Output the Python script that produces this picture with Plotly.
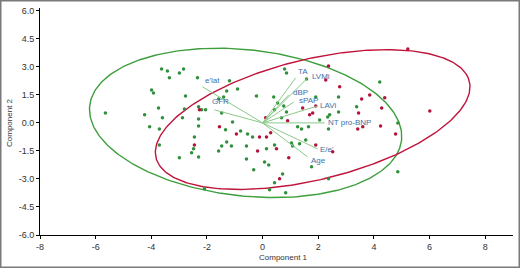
import numpy as np
import plotly.graph_objects as go

# ---- data ----
green_x = [-5.65, -4.24, -4.06, -3.99, -3.92, -3.74, -3.71, -3.71, -3.63, -3.60, -3.42, -3.35, -2.99, -2.84,
           -2.77, -2.88, -2.81, -2.99, -2.55, -2.48, -2.45, -2.34, -2.30, -2.19, -2.05, -2.30, -2.30, -2.30,
           -2.09, -1.58, -1.40, -1.29, -1.19, -0.90, -1.47, -1.58, -1.47, -1.29, -1.12, -1.33, -1.08, -0.79,
           -0.54, -0.58, -0.58, -0.36, -0.32, -0.22, 0.07, 0.22, 0.14, 0.43, 0.25, 0.43, 0.72, 0.83, 0.79,
           0.86, 0.40, 0.54, 0.76, 0.43, 0.86, 1.04, 1.08, 1.33, 1.55, 1.26, 1.40, 1.65, 1.58, 1.91, 2.05,
           2.34, 2.41, 2.37, 2.73, 2.73, 3.38, 4.21, 4.86, 1.76, 2.37, 4.86, 0.68]
green_y = [0.53, 0.43, -0.21, 1.76, 1.60, 0.80, -0.32, -1.18, 2.89, 0.27, 2.78, 2.41, 2.67, 2.89,
           1.44, 0.27, 0.75, -1.87, -1.60, -1.39, -0.75, 2.41, 0.86, 0.70, 0.70, 0.21, -0.16, -1.82,
           -3.53, 1.28, 1.39, 1.71, 2.25, 1.82, 0.53, -1.50, -1.23, -1.02, -1.23, -0.37, 0.05, -0.43,
           -0.59, -1.23, -1.93, -0.75, -2.51, 1.44, -2.09, -2.25, -1.39, -1.18, -3.58, -3.21, -2.73, -3.74, 2.89,
           2.67, 1.39, 1.07, 0.91, 0.70, 0.59, -1.07, -1.23, -1.12, -0.91, -0.21, -0.32, -0.21, 2.35, 1.39, 0.16,
           0.32, 0.43, -0.32, 1.39, 0.59, 0.86, 2.19, 0.00, -2.35, -2.99, -2.62, 0.27]

red_x = [-2.45, -2.27, -1.55, -0.94, -0.18, -0.11, 0.14, 0.29, 0.11, 0.50, 0.94, 0.61, 0.90, 1.44, 1.69,
         1.80, 1.91, 2.27, 2.37, 2.77, 1.91, 2.52, 3.45, 3.42, 3.60, 4.24, 4.78, 3.56, 3.85, 4.39, 4.28,
         5.22, 6.01]
red_y = [-1.18, 0.70, -0.21, -0.59, -1.50, -0.75, -0.75, -0.53, 0.27, -1.39, -1.87, -2.99, 0.11, 0.80, 0.43,
         0.53, 0.91, 2.30, 3.05, 1.93, -1.18, -1.55, 0.53, -0.32, -0.21, -0.16, -0.59, 1.28, 1.50, 1.34, 0.80,
         3.96, 0.64]

loading_names = ["e'lat", "GFR", "TA", "LVMi", "dBP", "sPAP", "LAVi", "NT pro-BNP", "E/e'", "Age"]
loading_x = [-2.16, -1.73, 1.19, 1.62, 0.94, 1.12, 1.98, 2.23, 1.98, 1.62]
loading_y = [1.93, 0.70, 2.41, 2.41, 1.50, 1.12, 0.91, 0.00, -1.39, -1.82]

# confidence ellipses: centre x, centre y, semi-major, semi-minor, angle (deg)
green_ellipse = [-0.61, 0.0, 5.70, 3.87, -13.8]
red_ellipse = [1.80, 0.18, 6.03, 3.10, 23.9]

x_ticks = [-8, -6, -4, -2, 0, 2, 4, 6, 8]
y_ticks = [-6.0, -4.5, -3.0, -1.5, 0.0, 1.5, 3.0, 4.5, 6.0]

GREEN = "#2f8f3a"
RED = "#b3123a"
ELL_GREEN = "#3c9e3c"
ELL_RED = "#c0143c"
LOAD_LINE = "#8ac98a"
LABEL = "#4470a6"
FONT = "Liberation Sans, Arial, sans-serif"


def ellipse(params, n=300):
    cx, cy, a, b, ang = params
    t = np.linspace(0, 2 * np.pi, n)
    th = np.deg2rad(ang)
    xs = cx + a * np.cos(t) * np.cos(th) - b * np.sin(t) * np.sin(th)
    ys = cy + a * np.cos(t) * np.sin(th) + b * np.sin(t) * np.cos(th)
    return xs, ys


fig = go.Figure()

for params, col in [(green_ellipse, ELL_GREEN), (red_ellipse, ELL_RED)]:
    ex, ey = ellipse(params)
    fig.add_trace(go.Scatter(x=ex, y=ey, mode="lines", line=dict(color=col, width=1.4),
                             hoverinfo="skip", showlegend=False))

fig.add_trace(go.Scatter(x=green_x, y=green_y, mode="markers",
                         marker=dict(color=GREEN, size=3.5), showlegend=False))
fig.add_trace(go.Scatter(x=red_x, y=red_y, mode="markers",
                         marker=dict(color=RED, size=3.5), showlegend=False))

for name, lx, ly in zip(loading_names, loading_x, loading_y):
    fig.add_trace(go.Scatter(x=[0, lx], y=[0, ly], mode="lines",
                             line=dict(color=LOAD_LINE, width=1), showlegend=False, hoverinfo="skip"))

label_pos = {
    "e'lat": ("left", "bottom", 1, 0),
    "GFR": ("left", "bottom", -4, 2),
    "TA": ("left", "bottom", 0, 0),
    "LVMi": ("left", "bottom", 2, -5),
    "dBP": ("left", "middle", 2, 2),
    "sPAP": ("left", "middle", 3, 1),
    "LAVi": ("left", "middle", 0, 0),
    "NT pro-BNP": ("left", "middle", 1, 0),
    "E/e'": ("left", "middle", 0, -1),
    "Age": ("left", "top", 1, 3),
}
for name, lx, ly in zip(loading_names, loading_x, loading_y):
    xa, ya, xs, ys = label_pos[name]
    fig.add_annotation(x=lx, y=ly, text=name, showarrow=False, xanchor=xa, yanchor=ya,
                       xshift=xs, yshift=ys, font=dict(color=LABEL, size=8, family=FONT))

W, H = 520, 268
ml, mr, mt, mb = 40, 7, 8, 33
pw, ph = W - ml - mr, H - mt - mb


def px_x(p):
    return (p - ml) / pw


def px_y(p):
    return (H - mb - p) / ph


fig.update_layout(
    width=W, height=H,
    margin=dict(l=ml, r=mr, t=mt, b=mb, autoexpand=False),
    paper_bgcolor="white", plot_bgcolor="white",
    font=dict(family=FONT, size=9, color="#333333"),
    xaxis=dict(range=[-8, 9], tickvals=x_ticks, ticktext=[str(v) for v in x_ticks],
               showgrid=False, zeroline=False, showline=True, linecolor="black", linewidth=1,
               ticks="outside", ticklen=3, tickcolor="black", automargin=False),
    yaxis=dict(range=[-6, 6.15], tickvals=y_ticks, ticktext=["%.1f" % v for v in y_ticks],
               showgrid=False, zeroline=False, showline=True, linecolor="black", linewidth=1,
               ticks="outside", ticklen=3, tickcolor="black", automargin=False),
    showlegend=False,
)

# axis titles
fig.add_annotation(xref="paper", yref="paper", x=px_x(283), y=px_y(257), text="Component 1",
                   showarrow=False, xanchor="center", yanchor="middle",
                   font=dict(size=8, color="#333333", family=FONT))
fig.add_annotation(xref="paper", yref="paper", x=px_x(10), y=px_y(123), text="Component 2",
                   showarrow=False, xanchor="center", yanchor="middle", textangle=-90,
                   font=dict(size=8, color="#333333", family=FONT))

# image frame
fig.add_shape(type="rect", xref="paper", yref="paper",
              x0=px_x(0.75), x1=px_x(W - 0.75),
              y0=px_y(H - 0.75), y1=px_y(0.75),
              line=dict(color="#7a7a7a", width=1.5), fillcolor="rgba(0,0,0,0)", layer="above")

fig.write_html("out.html", config={"displayModeBar": False},
               post_script="document.body.style.margin='0';document.body.style.overflow='hidden';")
